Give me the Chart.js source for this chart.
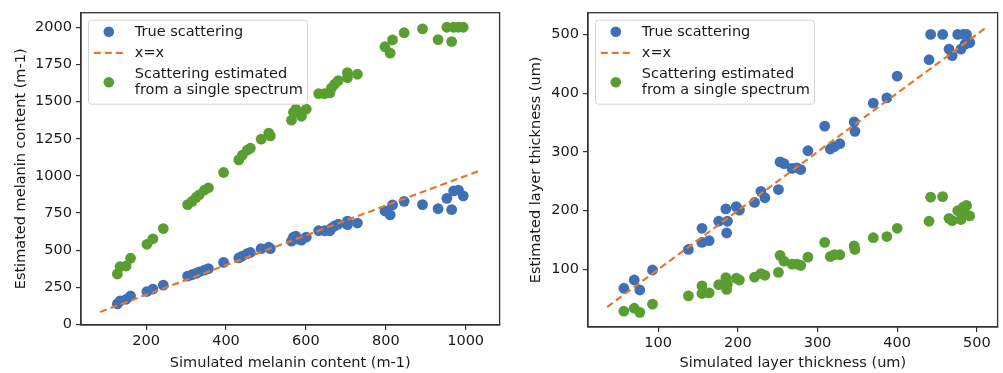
<!DOCTYPE html>
<html lang="en">

<head>
    <meta charset="UTF-8">
    <title>Melanin and layer thickness estimates</title>
    <script src="https://cdn.jsdelivr.net/npm/chart.js@4.4.1/dist/chart.umd.min.js"></script>
    <style>
        body { margin: 0; background: #fff; overflow: hidden; }
        .box { position: absolute; top: 0; height: 373px; }
    </style>
</head>

<body>
    <div class="box" style="left:0px; width:505px;"><canvas id="melanin"></canvas></div>
    <div class="box" style="left:504px; width:499px;"><canvas id="thickness"></canvas></div>

    <script>
        // left panel: melanin content (m-1)
        const melaninSim = [128, 135, 150, 161, 202, 217, 243, 304, 315, 325, 333, 346, 356, 394, 432, 441, 453, 461,
            488, 507, 511, 564, 569, 575, 581, 589, 601, 632, 647, 660, 664, 672, 681, 704, 704, 729,
            798, 811, 817, 846, 892, 931, 953, 965, 970, 982, 994];
        const melaninTrue = [139, 159, 170, 192, 222, 239, 265, 326, 335, 344, 355, 366, 376, 418, 448, 461, 477, 485,
            511, 520, 511, 561, 588, 594, 575, 568, 588, 631, 631, 631, 649, 664, 675, 696, 672, 683,
            764, 738, 805, 829, 807, 779, 849, 773, 899, 905, 866];
        const melaninSingle = [340, 390, 394, 446, 540, 577, 646, 807, 829, 855, 873, 905, 920, 1023, 1108, 1140, 1173, 1186,
            1247, 1288, 1269, 1375, 1428, 1449, 1428, 1401, 1449, 1554, 1554, 1558, 1591, 1617, 1641, 1695, 1660, 1684,
            1869, 1826, 1915, 1963, 1989, 1917, 2000, 1904, 2000, 2000, 2000];
        const melaninLine = [85, 1040];
        const melaninXTicks = [200, 400, 600, 800, 1000];
        const melaninYTicks = [0, 250, 500, 750, 1000, 1250, 1500, 1750, 2000];

        // right panel: layer thickness (um)
        const thicknessSim = [57, 70, 77, 93, 138, 155, 155, 164, 176, 185, 187, 186, 198, 202, 221, 229, 234,
            251, 253, 258, 268, 274, 279, 288, 309, 316, 321, 328, 346, 347, 370, 387, 400,
            440, 442, 457, 465, 469, 476, 483, 487, 480, 491, 485];
        const thicknessTrue = [68, 82, 65, 99, 134, 170, 146, 149, 182, 203, 182, 162, 207, 201, 214, 233, 222,
            236, 283, 280, 272, 273, 270, 302, 344, 305, 309, 314, 351, 335, 383, 392, 429,
            457, 500, 500, 475, 464, 500, 500, 500, 475, 486, 483];
        const thicknessSingle = [29, 34, 27, 41, 55, 72, 59, 60, 74, 86, 75, 66, 85, 82, 87, 93, 90,
            95, 124, 114, 109, 109, 107, 121, 146, 122, 125, 125, 140, 134, 154, 156, 170,
            182, 223, 224, 187, 183, 200, 206, 209, 185, 191, 195];
        const thicknessLine = [36, 513];
        const thicknessXTicks = [100, 200, 300, 400, 500];
        const thicknessYTicks = [100, 200, 300, 400, 500];

        const labelTrue = 'True scattering';
        const labelLine = 'x=x';
        const labelSingle = 'Scattering estimated\nfrom a single spectrum';

        const BLUE = '#3f6fb4';
        const ORANGE = '#e8772a';
        const GREEN = '#5a9e31';
        const FONT = { family: 'DejaVu Sans', size: 14.5 };

        Chart.defaults.font.family = 'DejaVu Sans';
        Chart.defaults.color = '#1a1a1a';

        function pts(xs, ys) {
            return xs.map((v, i) => ({ x: v, y: ys[i] }));
        }

        // frame round the plot + a legend drawn like the matplotlib one
        const frameLegend = {
            id: 'frameLegend',
            afterDraw(chart) {
                const ctx = chart.ctx;
                const a = chart.chartArea;
                ctx.save();
                ctx.strokeStyle = '#333';
                ctx.lineWidth = 1.3;
                ctx.strokeRect(a.left, a.top, a.right - a.left, a.bottom - a.top);

                const x0 = a.left + 7.5, y0 = a.top + 7.5, w = 219, h = 84;
                ctx.fillStyle = 'rgba(255,255,255,0.8)';
                ctx.strokeStyle = '#d4d4d4';
                ctx.lineWidth = 1;
                ctx.beginPath();
                if (ctx.roundRect) ctx.roundRect(x0, y0, w, h, 3); else ctx.rect(x0, y0, w, h);
                ctx.fill();
                ctx.stroke();

                // legend rows: blue, line, green
                const rows = [chart.data.datasets[2], chart.data.datasets[1], chart.data.datasets[0]];
                const rowY = [11.6, 32.6, 62];
                ctx.font = '14.5px "DejaVu Sans"';
                ctx.textBaseline = 'middle';
                rows.forEach((ds, i) => {
                    const cy = y0 + rowY[i];
                    if (ds.showLine) {
                        ctx.strokeStyle = ds.borderColor;
                        ctx.lineWidth = 2.2;
                        ctx.setLineDash([7, 4]);
                        ctx.beginPath();
                        ctx.moveTo(x0 + 5.3, cy);
                        ctx.lineTo(x0 + 35.3, cy);
                        ctx.stroke();
                        ctx.setLineDash([]);
                    } else {
                        ctx.fillStyle = ds.backgroundColor;
                        ctx.beginPath();
                        ctx.arc(x0 + 20.3, cy, 5.3, 0, Math.PI * 2);
                        ctx.fill();
                    }
                    ctx.fillStyle = '#1a1a1a';
                    const lines = ds.label.split('\n');
                    lines.forEach((t, k) => {
                        ctx.fillText(t, x0 + 46.3, cy + (k - (lines.length - 1) / 2) * 15.7);
                    });
                });
                ctx.restore();
            }
        };

        function makeChart(id, o) {
            return new Chart(document.getElementById(id), {
                type: 'scatter',
                data: {
                    datasets: [{
                        label: labelSingle,
                        data: pts(o.sim, o.single),
                        backgroundColor: GREEN,
                        pointRadius: 5.4,
                        pointBorderWidth: 0,
                        order: 1,
                    }, {
                        label: labelLine,
                        data: pts(o.line, o.line),
                        showLine: true,
                        borderColor: ORANGE,
                        borderWidth: 2.2,
                        borderDash: [7, 4],
                        pointRadius: 0,
                        order: 2,
                    }, {
                        label: labelTrue,
                        data: pts(o.sim, o.truth),
                        backgroundColor: BLUE,
                        pointRadius: 5.4,
                        pointBorderWidth: 0,
                        order: 3,
                    }],
                },
                options: {
                    responsive: true,
                    maintainAspectRatio: false,
                    animation: false,
                    layout: { padding: { top: 4, right: o.padRight, left: 0, bottom: 0 } },
                    plugins: { legend: { display: false }, tooltip: { enabled: false } },
                    scales: {
                        x: {
                            type: 'linear',
                            min: o.xMin,
                            max: o.xMax,
                            afterBuildTicks: s => { s.ticks = o.xTicks.map(v => ({ value: v })); },
                            afterFit: s => { s.height = o.xHeight; },
                            ticks: { font: FONT, padding: 3, autoSkip: false, maxRotation: 0, callback: v => String(v) },
                            grid: { drawOnChartArea: false, tickLength: 5, color: '#333', lineWidth: 1.2 },
                            border: { display: true, color: '#333', width: 1.3 },
                            title: { display: true, text: o.xTitle, font: FONT, padding: { top: 1, bottom: 1 } },
                        },
                        y: {
                            type: 'linear',
                            min: o.yMin,
                            max: o.yMax,
                            afterBuildTicks: s => { s.ticks = o.yTicks.map(v => ({ value: v })); },
                            afterFit: s => { s.width = o.yWidth; },
                            ticks: { font: FONT, padding: 4, autoSkip: false, callback: v => String(v) },
                            grid: { drawOnChartArea: false, tickLength: 5, color: '#333', lineWidth: 1.2 },
                            border: { display: true, color: '#333', width: 1.3 },
                            title: { display: true, text: o.yTitle, font: FONT, padding: { top: o.yTitlePad, bottom: o.yTitlePad } },
                        },
                    },
                },
                plugins: [frameLegend],
            });
        }

        makeChart('melanin', {
            sim: melaninSim, truth: melaninTrue, single: melaninSingle, line: melaninLine,
            xTicks: melaninXTicks, yTicks: melaninYTicks,
            xMin: 37, xMax: 1085, yMin: -3, yMax: 2098,
            xTitle: 'Simulated melanin content (m-1)', yTitle: 'Estimated melanin content (m-1)',
            yWidth: 81, xHeight: 48, padRight: 2, yTitlePad: 12.5,
        });

        makeChart('thickness', {
            sim: thicknessSim, truth: thicknessTrue, single: thicknessSingle, line: thicknessLine,
            xTicks: thicknessXTicks, yTicks: thicknessYTicks,
            xMin: 12, xMax: 526, yMin: 2, yMax: 537,
            xTitle: 'Simulated layer thickness (um)', yTitle: 'Estimated layer thickness (um)',
            yWidth: 84, xHeight: 46, padRight: 1, yTitlePad: 23.5,
        });
    </script>
</body>

</html>
